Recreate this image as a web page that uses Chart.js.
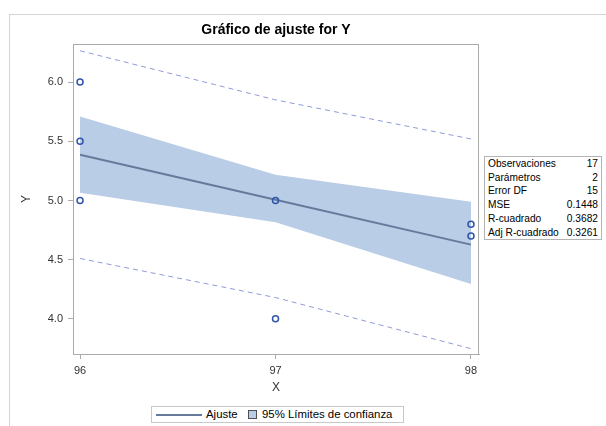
<!DOCTYPE html>
<html>
<head>
<meta charset="utf-8">
<script src="https://cdn.jsdelivr.net/npm/chart.js@4/dist/chart.umd.min.js"></script>
<style>
  html, body { margin: 0; padding: 0; background: #fff; }
  #wrap { position: relative; width: 606px; height: 426px; overflow: hidden; font-family: 'Liberation Sans', Arial, sans-serif; }
  #frame { position: absolute; left: 9px; top: 14px; width: 700px; height: 500px; border-left: 1px solid #D4D4D4; border-top: 1px solid #D4D4D4; }
  canvas { position: absolute; left: 0; top: 0; }
  #stats { position: absolute; left: 484px; top: 156px; width: 110px; border: 1px solid #B4B4B4; background: #fff; font-size: 10.2px; line-height: 13.7px; color: #000; padding: 0 3px; }
  #stats .row { display: flex; justify-content: space-between; white-space: nowrap; }
  #legend { position: absolute; left: 151px; top: 406px; width: 251px; height: 15px; border: 1px solid #C8C8C8; background: #fff; font-size: 11.4px; color: #000; }
  #legend .ln { position: absolute; left: 4px; top: 7px; width: 46px; height: 2px; background: #687A9C; }
  #legend .t1 { position: absolute; left: 54px; top: 1px; line-height: 13px; white-space: nowrap; }
  #legend .sq { position: absolute; left: 96px; top: 3px; width: 7px; height: 7px; background: #B9CDE6; border: 1px solid #505050; }
  #legend .t2 { position: absolute; left: 110px; top: 1px; line-height: 13px; white-space: nowrap; }
</style>
</head>
<body>
<div id="wrap">
  <div id="frame"></div>
  <canvas id="c" width="606" height="426"></canvas>
  <div id="stats"></div>
  <div id="legend"></div>
</div>
<script>
// ---- data ----
const obsX = [96, 96, 96, 97, 97, 98, 98];
const obsY = [6.0, 5.5, 5.0, 5.0, 4.0, 4.8, 4.7];
const fitX = [96, 97, 98];
const fitY = [5.387, 5.007, 4.627];
const clmLower = [5.065, 4.816, 4.294];
const clmUpper = [5.710, 5.218, 4.990];
const predLower = [4.510, 4.180, 3.748];
const predUpper = [6.265, 5.850, 5.520];
const xTicks = [96, 97, 98];
const yTicks = [4.0, 4.5, 5.0, 5.5, 6.0];
const statLabels = ['Observaciones', 'Parámetros', 'Error DF', 'MSE', 'R-cuadrado', 'Adj R-cuadrado'];
const statValues = ['17', '2', '15', '0.1448', '0.3682', '0.3261'];
const legendLabels = ['Ajuste', '95% Límites de confianza'];
const titleText = 'Gráfico de ajuste for Y';

// ---- HTML pieces (stats table, legend) ----
document.getElementById('stats').innerHTML = statLabels.map((l, i) =>
  '<div class="row"><span>' + l + '</span><span>' + statValues[i] + '</span></div>').join('');
document.getElementById('legend').innerHTML =
  '<div class="ln"></div><div class="t1">' + legendLabels[0] + '</div>' +
  '<div class="sq"></div><div class="t2">' + legendLabels[1] + '</div>';

const pts = (xs, ys) => xs.map((x, i) => ({ x: x, y: ys[i] }));

const FIT = '#687A9C', BAND = '#B9CDE6', PRED = '#8E9BD8', MARK = '#2F55AB', AXIS = '#ABABAB', TXT = '#333333';

const frame = {
  id: 'frame',
  beforeDatasetsDraw(chart) {
    const a = chart.chartArea, ctx = chart.ctx;
    ctx.save();
    ctx.strokeStyle = AXIS; ctx.lineWidth = 1;
    ctx.strokeRect(Math.round(a.left) + 0.5, Math.round(a.top) + 0.5, Math.round(a.right - a.left) - 1, Math.round(a.bottom - a.top));
    ctx.restore();
  }
};

Chart.defaults.font.family = "'Liberation Sans', Arial, sans-serif";

new Chart(document.getElementById('c'), {
  type: 'line',
  data: {
    datasets: [
      { label: 'L95M', data: pts(fitX, clmLower), borderWidth: 0, pointRadius: 0, fill: false, order: 4, borderColor: 'rgba(0,0,0,0)' },
      { label: legendLabels[1], data: pts(fitX, clmUpper), borderWidth: 0, pointRadius: 0, fill: '-1', backgroundColor: BAND, order: 4, borderColor: 'rgba(0,0,0,0)' },
      { label: 'LPred', data: pts(fitX, predLower), borderColor: PRED, borderWidth: 1, borderDash: [5, 4], pointRadius: 0, fill: false, order: 3 },
      { label: 'UPred', data: pts(fitX, predUpper), borderColor: PRED, borderWidth: 1, borderDash: [5, 4], pointRadius: 0, fill: false, order: 3 },
      { label: legendLabels[0], data: pts(fitX, fitY), borderColor: FIT, borderWidth: 2, pointRadius: 0, fill: false, order: 2 },
      { label: 'Y', data: pts(obsX, obsY), showLine: false, pointRadius: 3, pointBorderWidth: 1.5, pointBorderColor: MARK, pointBackgroundColor: 'rgba(0,0,0,0)', order: 1 }
    ]
  },
  options: {
    responsive: false,
    animation: false,
    devicePixelRatio: 1,
    layout: { padding: { left: 9, right: 127, top: 16, bottom: 28 } },
    plugins: {
      legend: { display: false },
      tooltip: { enabled: false },
      title: {
        display: true, text: titleText, fullSize: false, color: '#000',
        font: { size: 14, weight: 'bold' }, padding: { top: 6.1, bottom: 5.1 }
      }
    },
    scales: {
      x: {
        type: 'linear', min: 95.964, max: 98.041,
        afterBuildTicks(s) { s.ticks = xTicks.map(v => ({ value: v })); },
        afterFit(s) { s.height = 44; },
        ticks: { color: TXT, font: { size: 11 }, padding: 5, callback: v => String(v) },
        grid: { drawOnChartArea: false, drawTicks: true, tickLength: 5, color: AXIS },
        border: { display: true, color: AXIS },
        title: { display: true, text: 'X', color: TXT, font: { size: 12 }, padding: { top: 0, bottom: 2.8 } }
      },
      y: {
        type: 'linear', min: 3.703, max: 6.322,
        afterBuildTicks(s) { s.ticks = yTicks.map(v => ({ value: v })); },
        afterFit(s) { s.width = 64; },
        ticks: { color: TXT, font: { size: 11 }, padding: 5, callback: v => Number(v).toFixed(1) },
        grid: { drawOnChartArea: false, drawTicks: true, tickLength: 5, color: AXIS },
        border: { display: true, color: AXIS },
        title: { display: true, text: 'Y', color: TXT, font: { size: 12 }, padding: { top: 10.8, bottom: 0 } }
      }
    }
  },
  plugins: [frame]
});
</script>
</body>
</html>
